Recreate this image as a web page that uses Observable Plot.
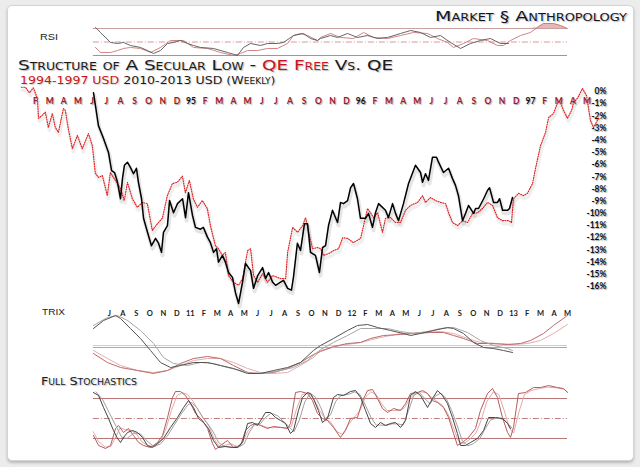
<!DOCTYPE html>
<html><head><meta charset="utf-8">
<script src="https://cdn.jsdelivr.net/npm/d3@7"></script>
<script src="https://cdn.jsdelivr.net/npm/@observablehq/plot@0.6"></script>
<style>
html,body{margin:0;padding:0;background:#ececec;}
#page{position:relative;width:640px;height:467px;overflow:hidden;background:#ececec;}
#frame{position:absolute;left:7px;top:5px;width:625px;height:454px;background:#fff;border:1px solid #d4d4d4;border-radius:5px;box-shadow:0 2px 3px rgba(0,0,0,.22);}
.layer{position:absolute;left:0;top:0;}
.txt{position:absolute;white-space:nowrap;line-height:1;transform-origin:0 0;}
svg.main text{text-shadow:1px 1px 1px rgba(0,0,0,.35);}
</style></head>
<body><div id="page"><div id="frame"></div></div>
<script>
// ---------- tick labels ----------
const monthLetters = ["J","F","M","A","M","J","J","A","S","O","N","D"];
const mainYears = {12:"95", 24:"96", 36:"97"};
const panelYears = {12:"11", 24:"12", 36:"13"};
const pctTicks = d3.range(-16, 1, 1);

// ---------- main chart: [month since Jan 1994/2010, % from start] ----------
const usd9497 = [[0,0.35],[0.29,0.35],[0.57,-0.1],[0.85,0.3],[1.14,-0.6],[1.21,-2.2],[1.34,-2.1],[1.7,-1.7],[1.91,-2.95],[2.19,-1.8],[2.4,-2.95],[2.62,-3.35],[2.97,-1.4],[3.11,-1.55],[3.32,-3.05],[3.61,-4.7],[3.96,-3.6],[4.31,-4.7],[4.74,-3.45],[5.02,-4.45],[5.23,-6.7],[5.45,-7.05],[5.73,-6.9],[6.08,-8.55],[6.29,-6.65],[6.65,-7.3],[7.0,-7.95],[7.28,-8.95],[7.5,-7.45],[7.85,-8.8],[8.2,-9.5],[8.56,-9.1],[8.91,-9.2],[9.26,-11.4],[9.62,-10.85],[9.97,-10.4],[10.32,-8.55],[10.68,-7.55],[11.03,-7.45],[11.39,-6.95],[11.6,-8.3],[11.88,-7.3],[12.16,-8.8],[12.45,-9.5],[12.8,-8.95],[13.15,-9.6],[13.37,-11.0],[13.72,-12.65],[13.94,-12.9],[14.22,-13.45],[14.43,-13.2],[14.65,-15.1],[15.0,-15.65],[15.36,-15.9],[15.64,-15.35],[16.0,-13.05],[16.21,-12.9],[16.42,-15.1],[16.71,-15.65],[17.06,-14.95],[17.41,-15.65],[17.77,-15.1],[18.33,-15.35],[18.69,-15.35],[18.83,-13.2],[19.18,-11.15],[19.54,-11.55],[19.89,-11.0],[20.1,-10.35],[20.31,-11.55],[20.6,-12.9],[20.95,-12.8],[21.16,-12.9],[21.37,-13.45],[21.73,-13.3],[22.08,-13.05],[22.43,-12.9],[22.72,-12.0],[23.07,-12.05],[23.49,-12.4],[23.99,-12.05],[24.2,-11.0],[24.48,-9.6],[24.69,-9.95],[24.91,-10.35],[25.19,-9.95],[25.54,-11.55],[25.75,-10.4],[26.11,-10.35],[26.46,-10.75],[26.81,-10.75],[27.17,-9.75],[27.52,-9.35],[28.02,-9.1],[28.37,-8.55],[28.58,-9.1],[28.94,-8.7],[29.29,-8.95],[29.64,-9.1],[30.0,-9.2],[30.21,-9.95],[30.49,-10.75],[30.85,-11.0],[31.2,-10.6],[31.55,-10.75],[31.91,-10.0],[32.26,-9.95],[32.61,-9.6],[32.97,-9.1],[33.32,-9.35],[33.67,-10.35],[34.03,-10.6],[34.45,-10.6],[34.66,-10.75],[34.8,-8.8],[35.16,-8.35],[35.51,-8.55],[35.79,-8.35],[36.15,-7.55],[36.36,-6.3],[36.71,-4.45],[37.07,-3.35],[37.28,-2.15],[37.63,-1.8],[37.92,-0.9],[38.06,-0.75],[38.34,-1.55],[38.62,-2.2],[38.91,-1.55],[39.05,-0.9],[39.33,-0.55],[39.68,0.25],[39.97,-0.35],[40.25,-2.4],[40.46,-2.95],[40.82,-2.2]];

const usd1013 = [[5.1,-0.1],[5.24,-1.15],[5.45,-2.8],[5.81,-3.85],[6.16,-5.0],[6.38,-6.5],[6.59,-6.65],[6.8,-7.45],[7.01,-8.8],[7.15,-7.15],[7.29,-6.05],[7.5,-5.8],[7.72,-6.25],[7.93,-6.75],[8.14,-6.3],[8.28,-7.45],[8.5,-8.8],[8.64,-10.4],[8.92,-11.55],[9.2,-12.65],[9.49,-12.05],[9.7,-12.45],[9.91,-13.2],[10.05,-11.55],[10.33,-11.0],[10.48,-8.95],[10.76,-9.95],[11.04,-9.2],[11.4,-8.8],[11.61,-10.35],[11.82,-8.3],[12.1,-10.15],[12.31,-11.15],[12.67,-11.3],[12.87,-11.15],[13.16,-11.95],[13.37,-12.4],[13.59,-13.2],[13.8,-12.9],[13.94,-14.0],[14.22,-13.45],[14.43,-14.0],[14.65,-14.85],[14.93,-15.25],[15.14,-16.5],[15.36,-17.4],[15.64,-15.65],[15.85,-14.1],[16.21,-14.7],[16.42,-16.15],[16.71,-15.1],[17.06,-14.45],[17.27,-15.35],[17.48,-14.85],[17.77,-15.65],[17.98,-15.9],[18.33,-15.65],[18.54,-15.5],[18.83,-16.15],[19.1,-16.3],[19.24,-15.25],[19.52,-12.45],[19.74,-13.05],[20.02,-10.85],[20.24,-10.85],[20.45,-13.2],[20.8,-13.45],[21.08,-14.85],[21.3,-12.8],[21.51,-12.65],[21.72,-11.0],[22.0,-9.75],[22.36,-10.75],[22.57,-9.1],[22.78,-9.2],[23.07,-8.95],[23.28,-7.9],[23.49,-7.55],[23.77,-8.8],[23.98,-10.4],[24.34,-10.4],[24.55,-10.0],[24.83,-11.15],[25.04,-9.95],[25.26,-9.2],[25.75,-9.75],[25.96,-10.35],[26.25,-9.2],[26.46,-10.0],[26.67,-10.6],[27.02,-9.2],[27.38,-7.55],[27.87,-6.05],[28.23,-6.65],[28.37,-7.45],[28.58,-6.75],[28.79,-7.3],[29.07,-5.4],[29.36,-5.4],[29.5,-5.8],[29.85,-6.65],[30.21,-6.3],[30.49,-7.15],[30.7,-7.7],[30.91,-8.55],[31.2,-10.6],[31.41,-10.0],[31.62,-9.35],[31.98,-10.0],[32.12,-9.6],[32.33,-9.6],[32.69,-8.8],[32.97,-8.1],[33.11,-7.9],[33.39,-9.1],[33.67,-9.1],[33.82,-8.8],[34.03,-9.75],[34.38,-9.75],[34.52,-9.6],[34.73,-8.7]];

// ---------- RSI ----------
const rsi1013 = [[4.96,71.5],[5.33,64.1],[6.08,49.3],[6.6,47.8],[7.04,49.3],[7.56,44.8],[8.3,41.9],[8.82,37.4],[9.27,33.0],[9.79,37.4],[10.31,47.8],[10.75,49.3],[11.27,52.2],[11.79,47.8],[12.24,44.8],[12.76,41.9],[13.72,40.4],[14.76,34.5],[15.5,30.0],[15.95,41.9],[16.47,47.8],[17.21,44.8],[17.73,47.8],[18.47,47.8],[18.92,49.3],[19.66,59.6],[20.4,62.6],[20.92,55.2],[21.44,52.2],[21.67,55.2],[22.41,59.6],[22.93,56.7],[23.67,62.6],[24.41,56.7],[25.16,59.6],[25.9,55.2],[26.64,56.7],[27.61,62.6],[28.35,67.0],[29.09,64.1],[29.83,56.7],[30.57,59.6],[31.31,49.3],[32.06,40.4],[32.8,47.8],[33.54,52.2],[34.28,55.2],[35.02,47.8],[35.62,47.8]];
const rsi9497 = [[4.96,41.9],[5.33,34.5],[6.08,34.5],[6.6,37.4],[7.04,40.4],[7.56,41.9],[8.3,40.4],[9.05,34.5],[9.79,41.9],[10.53,52.2],[11.5,52.2],[12.24,41.9],[13.28,40.4],[14.24,34.5],[15.21,30.0],[15.73,33.0],[16.25,37.4],[16.99,37.4],[17.73,40.4],[18.47,40.4],[19.22,47.8],[19.66,59.6],[20.18,62.6],[20.7,59.6],[21.44,52.2],[21.67,56.7],[22.41,62.6],[23.15,56.7],[24.12,55.2],[24.86,64.1],[25.6,56.7],[26.64,55.2],[27.61,59.6],[28.57,64.1],[29.61,62.6],[30.35,55.2],[31.09,49.3],[31.54,41.9],[32.28,47.8],[33.02,55.2],[34.06,52.2],[34.8,44.8],[35.25,44.8],[35.77,52.2],[36.51,59.6],[37.25,64.1],[37.77,71.5],[38.22,77.4],[38.96,77.4],[39.48,74.4],[40.0,70.0]];

// ---------- TRIX ----------
const trix1013 = [[4.81,1.9],[5.56,2.7],[6.45,3.2],[6.82,2.9],[7.56,1.9],[8.3,0.9],[9.05,-0.3],[9.79,-1.5],[10.53,-2.0],[11.27,-1.8],[12.24,-1.5],[13.28,-1.5],[14.24,-1.8],[15.21,-2.1],[16.25,-2.6],[17.21,-2.6],[18.18,-2.3],[19.22,-2.0],[20.18,-1.5],[21.14,-0.3],[21.67,0.2],[22.63,0.9],[23.67,1.7],[24.41,2.2],[25.16,2.3],[25.9,2.0],[26.86,1.7],[27.83,1.4],[28.35,1.2],[29.09,1.4],[30.06,1.7],[31.09,2.0],[31.54,1.9],[32.28,1.4],[33.02,0.5],[33.77,0.0],[34.51,-0.1],[35.25,-0.3],[35.92,-0.5]];
const trixSig1013 = [[4.81,2.2],[5.85,3.0],[6.6,3.2],[7.34,2.7],[8.3,1.7],[9.27,0.4],[10.01,-1.0],[10.75,-1.6],[11.79,-1.8],[12.76,-1.5],[13.72,-1.6],[14.76,-2.0],[15.73,-2.3],[16.69,-2.6],[17.73,-2.5],[18.7,-2.3],[19.66,-2.0],[20.7,-1.3],[21.67,-0.2],[22.63,0.5],[23.67,1.2],[24.64,1.9],[25.6,1.9],[26.64,1.9],[27.61,1.6],[28.57,1.4],[29.61,1.6],[30.57,1.9],[31.54,2.0],[32.58,1.5],[33.54,0.7],[34.51,0.2],[35.55,-0.1],[35.92,-0.3]];
const trix9497 = [[4.81,-0.6],[5.85,-1.5],[6.82,-2.0],[8.08,-2.3],[9.27,-2.6],[10.31,-2.3],[11.27,-1.6],[12.24,-1.1],[13.28,-0.9],[14.24,-1.1],[15.21,-1.8],[16.25,-2.5],[17.21,-2.6],[18.18,-2.5],[19.22,-2.1],[20.18,-1.5],[21.14,-0.7],[21.67,-0.4],[22.63,0.1],[23.67,0.4],[24.64,0.5],[25.38,0.9],[26.34,1.2],[27.61,1.3],[28.57,1.4],[29.83,1.5],[30.8,1.5],[31.54,1.2],[32.28,0.9],[33.32,0.4],[34.28,0.4],[35.55,0.3],[36.51,0.4],[37.25,0.7],[38.22,1.4],[38.96,2.2],[40.0,3.2]];
const trixSig9497 = [[4.81,-0.3],[5.85,-1.1],[6.82,-1.8],[8.08,-2.3],[9.27,-2.5],[10.31,-2.3],[11.27,-1.8],[12.24,-1.3],[13.28,-1.1],[14.24,-1.1],[15.21,-1.5],[16.25,-2.1],[17.21,-2.5],[18.18,-2.6],[19.22,-2.5],[20.18,-1.8],[21.14,-1.0],[21.67,-0.3],[23.15,0.2],[24.64,0.5],[26.12,1.0],[27.61,1.4],[29.09,1.5],[30.57,1.6],[31.54,1.4],[32.58,0.9],[33.54,0.5],[34.8,0.4],[35.99,0.3],[37.03,0.4],[38.0,0.7],[38.96,1.4],[40.0,2.3]];

// ---------- Full stochastics ----------
const stoch1013 = [[4.81,89],[5.19,84.5],[5.56,66.5],[5.93,50],[6.3,32],[6.6,20],[6.82,14],[7.04,21.5],[7.34,29],[7.71,32],[8.08,29],[8.45,21.5],[8.82,9.5],[9.19,6.5],[9.57,12.5],[10.01,20],[10.53,36.5],[11.05,51.5],[11.5,66.5],[11.87,77],[12.24,66.5],[12.61,50],[12.98,44],[13.35,35],[13.72,17],[14.09,6.5],[14.61,8],[15.13,6.5],[15.5,6.5],[15.88,14],[16.25,42.5],[16.62,44],[16.99,39.5],[17.36,51.5],[17.58,59],[17.95,59],[18.33,51.5],[18.7,47],[19.07,42.5],[19.44,27.5],[19.66,32],[20.03,62],[20.33,81.5],[20.7,89],[20.92,87.5],[21.14,80],[21.51,62],[21.81,44],[22.18,50],[22.63,81.5],[22.93,86],[23.37,84.5],[23.89,90.5],[24.27,92],[24.64,81.5],[25.01,62],[25.38,42.5],[25.75,36.5],[26.12,44],[26.49,39.5],[26.86,42.5],[27.23,44],[27.61,36.5],[27.98,47],[28.35,84.5],[28.72,90.5],[29.09,84.5],[29.61,66.5],[29.98,80],[30.35,92],[30.72,84.5],[31.09,72.5],[31.46,51.5],[31.83,27.5],[32.06,9.5],[32.43,9.5],[32.8,14],[33.32,20],[33.77,32],[34.14,51.5],[34.66,51.5],[35.17,50],[35.55,42.5],[35.77,35]];
const stochSig1013 = [[5.0,90],[5.5,78],[6.0,58],[6.5,38],[6.9,22],[7.3,20],[7.8,28],[8.3,27],[8.8,16],[9.3,8],[9.8,12],[10.3,24],[10.8,40],[11.3,56],[11.8,70],[12.1,74],[12.5,66],[12.9,52],[13.3,42],[13.7,30],[14.1,14],[14.5,8],[15.0,7],[15.6,7],[16.0,12],[16.4,30],[16.8,42],[17.2,42],[17.6,52],[18.0,58],[18.5,54],[18.9,46],[19.3,38],[19.7,30],[20.1,48],[20.5,75],[20.9,88],[21.3,82],[21.7,66],[22.0,50],[22.4,55],[22.8,76],[23.2,85],[23.7,86],[24.2,90],[24.6,86],[25.0,70],[25.4,52],[25.8,40],[26.2,40],[26.6,40],[27.0,42],[27.4,42],[27.8,40],[28.2,62],[28.6,85],[29.0,89],[29.4,80],[29.8,72],[30.2,84],[30.6,88],[31.0,80],[31.4,62],[31.8,40],[32.2,16],[32.6,9],[33.0,12],[33.5,20],[33.9,35],[34.3,48],[34.8,51],[35.3,48],[35.7,40],[35.9,35]];
const stoch9497 = [[4.81,24.5],[5.19,9.5],[5.71,5],[6.08,9.5],[6.45,35],[6.67,39.5],[7.04,29],[7.41,35],[7.78,24.5],[8.16,14],[8.53,9.5],[9.05,6.5],[9.57,14],[9.94,24.5],[10.31,51.5],[10.68,81.5],[10.9,90.5],[11.27,90.5],[11.64,84.5],[12.02,72.5],[12.39,57.5],[12.91,47],[13.28,35],[13.65,12.5],[13.87,3.5],[14.24,9.5],[14.76,17],[15.21,6.5],[15.73,9.5],[16.1,32],[16.47,39.5],[16.84,42.5],[17.21,39.5],[17.73,35],[18.18,38],[18.7,36.5],[19.22,35],[19.44,42.5],[19.81,89],[20.18,90.5],[20.7,87.5],[21.07,77],[21.44,57.5],[21.81,50],[22.18,47],[22.63,36.5],[23.15,21.5],[23.52,32],[23.89,50],[24.41,51.5],[24.79,77],[25.16,92],[25.53,93.5],[25.9,80],[26.27,65],[26.64,59],[27.09,65],[27.61,62],[27.98,72.5],[28.35,87.5],[28.87,89],[29.24,92],[29.61,87.5],[29.98,77],[30.35,74],[30.8,66.5],[31.17,51.5],[31.54,27.5],[31.83,9.5],[32.21,14],[32.65,21.5],[33.17,35],[33.54,62],[34.06,87.5],[34.43,95],[34.8,81.5],[35.17,51.5],[35.55,29],[35.77,21.5],[35.99,36.5],[36.36,87.5],[36.88,89],[37.48,96.5],[38.0,96.5],[38.59,99.5],[39.26,96.5],[39.71,95],[40.0,89]];
const stochSig9497 = [[4.8,30],[5.2,15],[5.7,7],[6.1,8],[6.5,24],[6.8,36],[7.2,33],[7.6,32],[8.0,27],[8.4,15],[8.9,9],[9.4,8],[9.8,16],[10.2,35],[10.6,62],[11.0,84],[11.4,89],[11.8,86],[12.2,76],[12.6,62],[13.0,50],[13.4,38],[13.8,18],[14.2,7],[14.6,10],[15.0,12],[15.5,8],[15.9,16],[16.3,32],[16.7,40],[17.1,41],[17.6,37],[18.1,36],[18.6,37],[19.1,36],[19.5,38],[19.9,65],[20.3,86],[20.8,88],[21.2,78],[21.6,62],[22.0,50],[22.4,45],[22.9,30],[23.3,26],[23.7,40],[24.1,50],[24.6,62],[25.0,82],[25.4,90],[25.8,86],[26.2,72],[26.6,62],[27.0,62],[27.5,62],[27.9,66],[28.3,80],[28.7,88],[29.1,90],[29.5,89],[29.9,82],[30.3,76],[30.7,70],[31.1,58],[31.5,38],[31.9,16],[32.3,12],[32.7,18],[33.2,28],[33.6,48],[34.0,75],[34.5,90],[34.9,86],[35.3,62],[35.7,35],[36.0,28],[36.4,60],[36.8,86],[37.3,92],[37.9,95],[38.5,97],[39.2,96],[39.7,94],[40.0,90]];

// ---------- helpers ----------
const page = document.getElementById("page");
const X = d => d[0], Y = d => d[1];
const RED = "#c8141a", DKRED = "#a3161b";

function addPlot(opts, cls) {
  const svg = Plot.plot(Object.assign({width: 640, height: 467, margin: 0,
    style: {background: "transparent", overflow: "visible"}}, opts));
  svg.classList.add("layer");
  if (cls) svg.classList.add(cls);
  page.appendChild(svg);
  return svg;
}
function addText(html, o) {
  const d = document.createElement("div");
  d.className = "txt";
  d.innerHTML = html;
  d.style.fontSize = o.fs + "px";
  d.style.fontFamily = o.font || "'Liberation Sans', Arial, sans-serif";
  d.style.color = o.color || "#1a1a1a";
  if (o.sc) d.style.fontVariant = "small-caps";
  if (o.weight) d.style.fontWeight = o.weight;
  if (o.shadow) d.style.textShadow = o.shadow;
  d.style.left = o.left + "px";
  d.style.top = (o.baseline - 0.846 * o.fs) + "px";
  page.appendChild(d);
  const w = d.getBoundingClientRect().width;
  if (o.width) d.style.transform = `scaleX(${o.width / w})`;
  return d;
}

const mainMonths = d3.range(1, 41).map(m => ({m, label: mainYears[m] || monthLetters[m % 12], year: !!mainYears[m]}));
const panelMonths = d3.range(6, 41).map(m => ({m, label: panelYears[m] || monthLetters[m % 12]}));
const lblFont = "Lato, 'DejaVu Sans', sans-serif";

// ---------- main chart ----------
addPlot({
  marginTop: 97, marginRight: 34,
  x: {domain: [0, 40], range: [20.86, 586.5], axis: null},
  y: {domain: [-16, 0], range: [286, 91], axis: null},
  marks: [
    Plot.text(pctTicks, {y: d => d, frameAnchor: "right", textAnchor: "end", text: d => d + "%",
      fontSize: 8.5, fontWeight: "bold", fill: "#111", fontFamily: lblFont}),
    Plot.text(mainMonths, {x: "m", frameAnchor: "top", text: "label", fontSize: 8.5, fontWeight: "bold",
      fill: d => d.year ? "#111" : DKRED, fontFamily: lblFont}),
    Plot.line(usd9497, {x: X, y: Y, stroke: "#999", strokeOpacity: 0.16, strokeWidth: 3.5, dy: 3, dx: 1}),
    Plot.line(usd1013, {x: X, y: Y, stroke: "#888", strokeOpacity: 0.22, strokeWidth: 4, dy: 3, dx: 1}),
    Plot.line(usd9497, {x: X, y: Y, stroke: "#de2020", strokeWidth: 1.15, strokeDasharray: "1 1.4"}),
    Plot.line(usd1013, {x: X, y: Y, stroke: "#000", strokeWidth: 1.5})
  ]
}, "main");

// ---------- RSI panel ----------
addPlot({
  x: {domain: [5, 40], range: [95.5, 567], axis: null},
  y: {domain: [30, 70], range: [55, 28], axis: null},
  marks: [
    Plot.areaY(rsi9497, {x: X, y1: 70, y2: d => Math.max(70, d[1]), fill: "#e3aaaa", fillOpacity: 0.85}),
    Plot.ruleY([70], {x1: 4.8, x2: 40, stroke: "#c9a0a0", strokeWidth: 1}),
    Plot.ruleY([50], {x1: 4.8, x2: 40, stroke: "#d59a9a", strokeWidth: 1, strokeDasharray: "6 2 1 2"}),
    Plot.ruleY([30], {x1: 4.8, x2: 40, stroke: "#999", strokeWidth: 1}),
    Plot.line(rsi9497, {x: X, y: Y, stroke: "#c77", strokeWidth: 0.9}),
    Plot.line(rsi1013, {x: X, y: Y, stroke: "#555", strokeWidth: 0.9})
  ]
});

// ---------- TRIX panel ----------
addPlot({
  marginTop: 310,
  x: {domain: [5, 40], range: [95.5, 567], axis: null},
  y: {domain: [-3, 3.4], range: [377, 313], axis: null},
  marks: [
    Plot.text(panelMonths, {x: "m", frameAnchor: "top", text: "label", fontSize: 7.5, fontWeight: "bold",
      fill: "#1a1a1a", fontFamily: lblFont}),
    Plot.ruleY([0.2], {x1: 4.8, x2: 40, stroke: "#e2c4c4", strokeWidth: 1}),
    Plot.ruleY([0], {x1: 4.8, x2: 40, stroke: "#aaa", strokeWidth: 1}),
    Plot.line(trixSig9497, {x: X, y: Y, stroke: "#e0b0b0", strokeWidth: 1}),
    Plot.line(trix9497, {x: X, y: Y, stroke: "#c06868", strokeWidth: 1}),
    Plot.line(trixSig1013, {x: X, y: Y, stroke: "#a8a8a8", strokeWidth: 1}),
    Plot.line(trix1013, {x: X, y: Y, stroke: "#555", strokeWidth: 1})
  ]
});

// ---------- Stochastics panel ----------
addPlot({
  x: {domain: [5, 40], range: [95.5, 567], axis: null},
  y: {domain: [0, 100], range: [451.3, 384.7], axis: null},
  marks: [
    Plot.ruleY([80, 20], {x1: 4.8, x2: 40, stroke: "#b87474", strokeWidth: 1}),
    Plot.ruleY([50], {x1: 4.8, x2: 40, stroke: "#c08080", strokeWidth: 1, strokeDasharray: "6 2 1 2"}),
    Plot.line(stochSig9497, {x: X, y: Y, stroke: "#e0aaaa", strokeWidth: 1}),
    Plot.line(stoch9497, {x: X, y: Y, stroke: "#bb5a5a", strokeWidth: 1}),
    Plot.line(stochSig1013, {x: X, y: Y, stroke: "#a0a0a0", strokeWidth: 1}),
    Plot.line(stoch1013, {x: X, y: Y, stroke: "#444", strokeWidth: 1})
  ]
});

// ---------- texts ----------
const sh = "1px 1px 1px rgba(0,0,0,.28)";
addText("Market <span style='font-variant:normal'>§</span> Anthropology", {left: 435, baseline: 21, fs: 14.7, width: 192, sc: true, color: "#141424", font: "'DejaVu Sans', sans-serif", shadow: sh});
addText("Structure of A Secular Low - <span style='color:" + RED + "'>QE Free</span> Vs. QE",
  {left: 18, baseline: 71, fs: 14.8, width: 375, sc: true, font: "'DejaVu Sans', sans-serif", color: "#1a1a1a", shadow: sh});
addText("<span style='color:" + RED + "'>1994-1997 USD</span> 2010-2013 USD <span style='font-variant:small-caps'>(Weekly)</span>",
  {left: 19.5, baseline: 84, fs: 11, width: 255.5, font: "'DejaVu Sans', sans-serif", color: "#1a1a1a", shadow: "1px 1px 1px rgba(0,0,0,.18)"});
addText("RSI", {left: 40, baseline: 40, fs: 9.5, width: 18, color: "#222"});
addText("TRIX", {left: 42, baseline: 315, fs: 9.6, width: 23, color: "#222"});
addText("Full Stochastics", {left: 41, baseline: 385, fs: 11, width: 96, sc: true, font: "'DejaVu Sans', sans-serif", color: "#1a1a1a", shadow: sh});
</script>
</body></html>
